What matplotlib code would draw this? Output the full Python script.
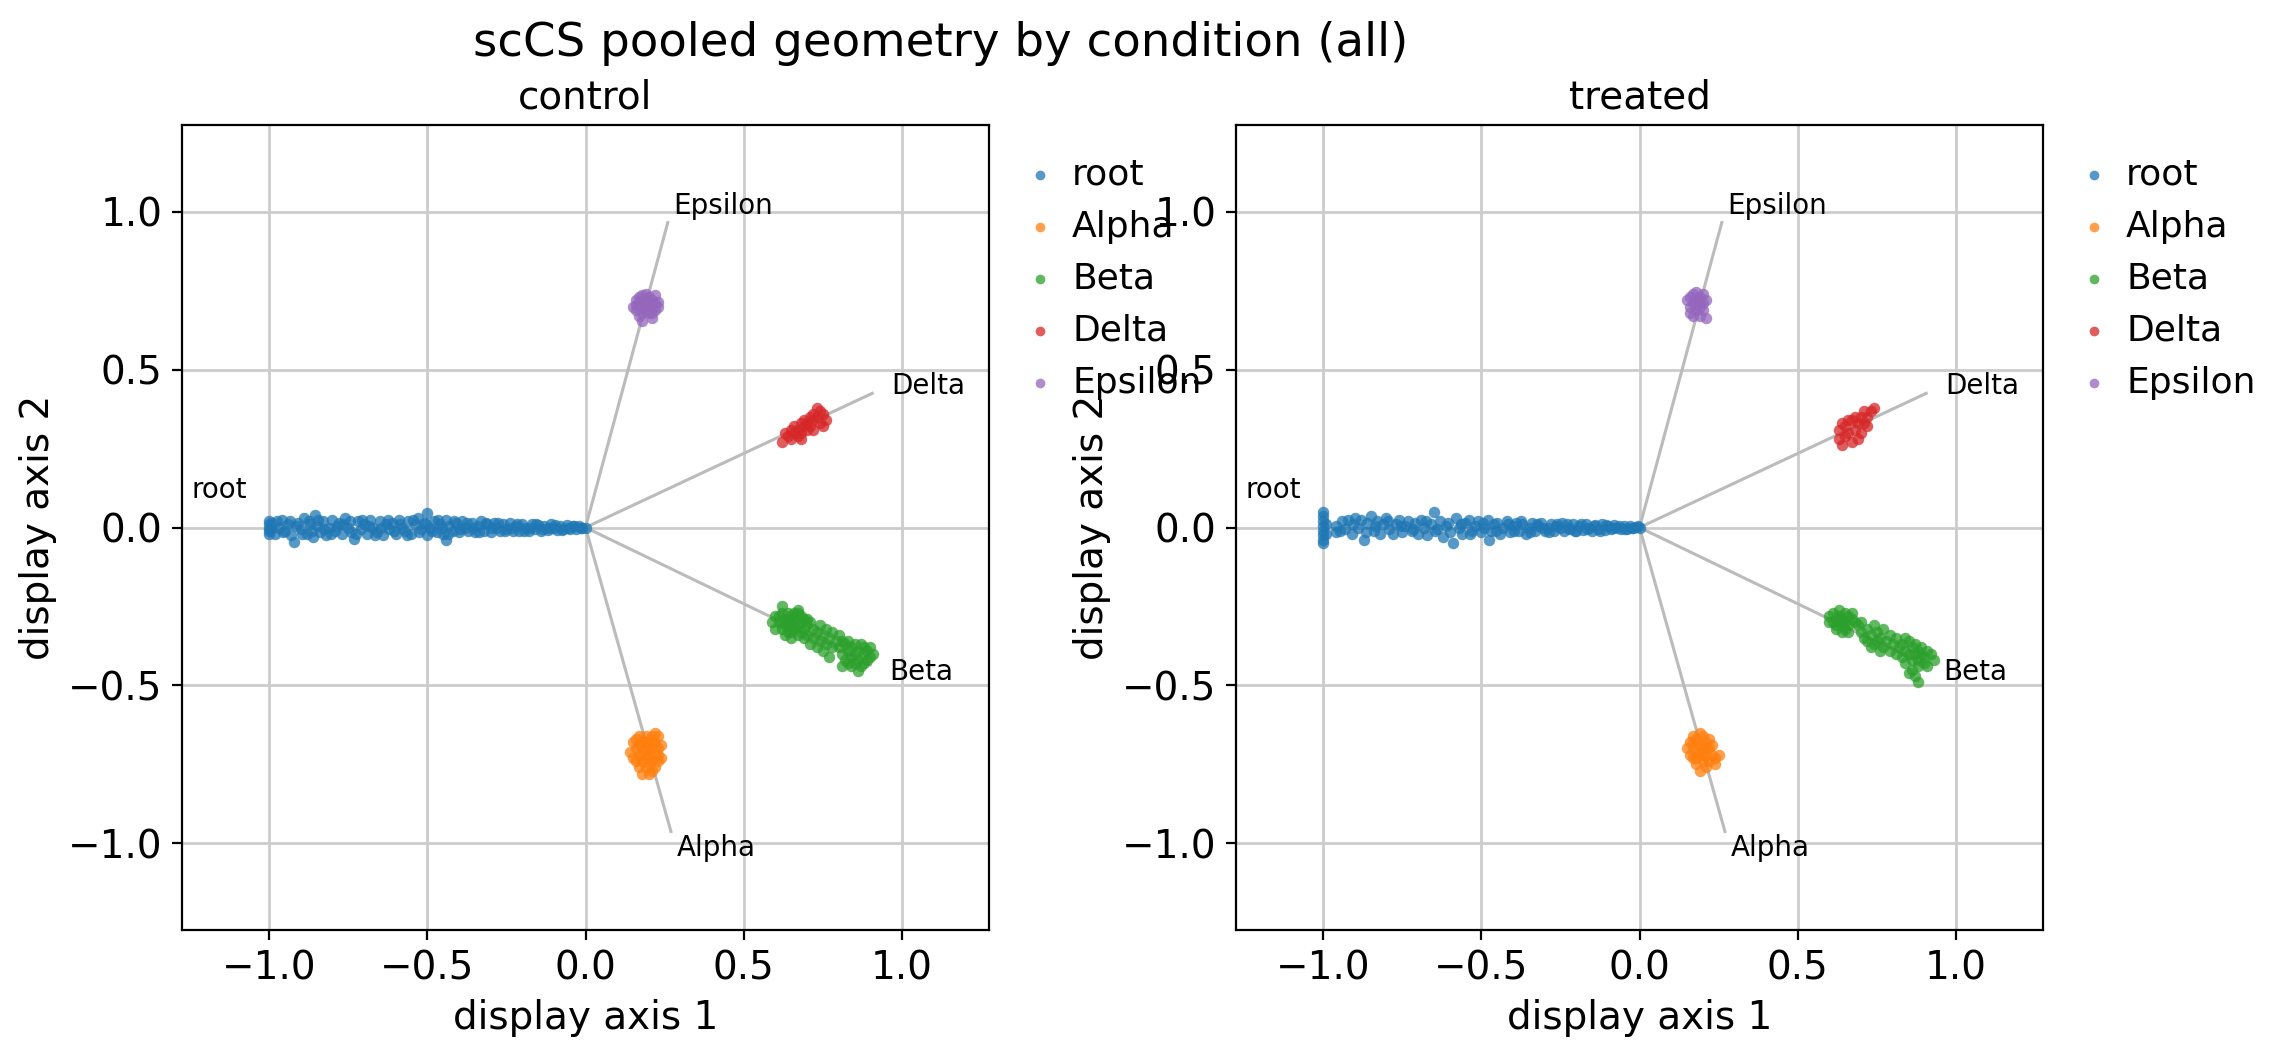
import matplotlib
matplotlib.use("Agg")
import matplotlib.pyplot as plt
import numpy as np

conditions = ["control", "treated"]
branches = ["root", "Alpha", "Beta", "Delta", "Epsilon"]
colors = {"root": "#1f77b4", "Alpha": "#ff7f0e", "Beta": "#2ca02c",
          "Delta": "#d62728", "Epsilon": "#9467bd"}

# trajectory end points (unit directions) for each branch
branch_end_x = [-1.0, 0.27, 0.90, 0.906, 0.26]
branch_end_y = [0.0, -0.963, -0.435, 0.425, 0.966]

# ---------------- control ----------------
ctrl_root_x = [-1.00,-1.00,-1.00,-1.00,-1.00,-0.99,-0.98,-0.97,-0.96,-0.95,-0.94,-0.93,-0.92,-0.91,-0.90,-0.89,-0.88,-0.87,-0.86,-0.855,
               -0.85,-0.84,-0.83,-0.82,-0.81,-0.80,-0.79,-0.78,-0.77,-0.76,-0.75,-0.74,-0.73,-0.72,-0.71,-0.70,-0.69,-0.68,-0.67,-0.66,
               -0.65,-0.64,-0.63,-0.62,-0.61,-0.60,-0.59,-0.58,-0.57,-0.56,-0.55,-0.54,-0.53,-0.52,-0.51,-0.50,-0.50,-0.49,-0.48,-0.47,
               -0.46,-0.45,-0.44,-0.44,-0.43,-0.42,-0.41,-0.40,-0.39,-0.38,-0.37,-0.36,-0.35,-0.34,-0.33,-0.32,-0.31,-0.30,-0.29,-0.28,
               -0.27,-0.26,-0.25,-0.24,-0.23,-0.22,-0.21,-0.20,-0.19,-0.18,-0.17,-0.16,-0.15,-0.14,-0.13,-0.12,-0.11,-0.10,-0.09,-0.08,
               -0.07,-0.06,-0.05,-0.04,-0.03,-0.02,-0.01,0.00,
               -0.995,-0.975,-0.955,-0.935,-0.915,-0.895,-0.875,-0.865,-0.845,-0.825,-0.805,-0.785,-0.765,-0.745,-0.725,-0.705,-0.685,-0.665,-0.645,-0.625,
               -0.605,-0.585,-0.565,-0.545,-0.525,-0.505,-0.485,-0.465,-0.455,-0.435,-0.415,-0.395,-0.375,-0.355,-0.335,-0.315,-0.295,-0.275,-0.255,-0.235,
               -0.215,-0.195,-0.175,-0.155,-0.135,-0.115,-0.095,-0.075,-0.055,-0.035,-0.015]
ctrl_root_y = [0.02,0.00,-0.02,0.01,-0.01,0.015,-0.02,0.00,0.025,-0.01,0.01,-0.025,-0.045,0.015,-0.005,0.03,-0.02,0.01,-0.03,0.04,
               0.005,-0.015,0.02,-0.025,0.00,0.025,-0.01,0.015,-0.02,0.03,0.00,-0.015,-0.035,0.02,-0.005,0.01,-0.02,0.025,0.00,-0.015,
               0.02,-0.025,0.01,-0.005,0.015,-0.02,0.025,0.00,-0.01,0.02,-0.02,0.01,0.03,-0.005,0.015,0.047,-0.025,0.00,0.02,-0.015,
               0.01,-0.02,-0.04,0.025,0.005,-0.01,0.015,-0.015,0.02,0.00,-0.01,0.015,-0.015,0.005,0.02,-0.01,0.01,-0.015,0.015,0.00,
               -0.01,0.01,-0.005,0.015,-0.01,0.005,-0.012,0.01,0.00,-0.01,0.012,-0.005,0.008,-0.01,0.005,-0.008,0.01,0.00,-0.008,0.006,
               -0.004,0.008,-0.006,0.004,-0.004,0.005,-0.003,0.00,
               -0.005,0.02,-0.015,0.02,0.005,-0.02,0.02,-0.01,0.025,-0.005,-0.02,0.005,0.01,0.02,-0.02,0.025,0.005,-0.025,0.00,0.025,
               -0.01,0.01,-0.025,0.025,-0.015,0.01,-0.01,0.025,0.00,-0.02,0.02,-0.005,0.015,0.00,-0.015,0.015,0.00,0.015,-0.012,0.00,
               0.012,-0.01,0.00,0.012,-0.005,0.00,0.008,-0.008,0.00,0.006,0.00]
ctrl_alpha_x = [0.15,0.16,0.17,0.17,0.18,0.18,0.19,0.19,0.19,0.20,0.20,0.21,0.21,0.21,0.22,0.22,0.23,0.23,0.16,0.17,
                0.18,0.20,0.22,0.23,0.24,0.14,0.18,0.20,0.16,0.22,0.19,0.21,0.18,0.20,0.17,0.23,0.19,0.21,0.15,0.24]
ctrl_alpha_y = [-0.68,-0.70,-0.66,-0.72,-0.68,-0.74,-0.66,-0.70,-0.76,-0.68,-0.72,-0.66,-0.70,-0.74,-0.68,-0.72,-0.70,-0.66,-0.74,-0.76,
                -0.70,-0.75,-0.76,-0.74,-0.69,-0.71,-0.78,-0.78,-0.67,-0.65,-0.73,-0.68,-0.72,-0.70,-0.69,-0.72,-0.68,-0.77,-0.73,-0.73]
ctrl_beta_x = [0.60,0.61,0.62,0.62,0.63,0.63,0.64,0.64,0.65,0.65,0.66,0.66,0.67,0.67,0.68,0.68,0.69,0.69,0.70,0.70,
               0.61,0.63,0.65,0.62,0.64,0.66,0.68,0.70,0.71,0.67,0.64,0.66,0.65,0.69,0.59,0.62,0.60,0.67,
               0.72,0.72,0.73,0.74,0.74,0.75,0.76,0.76,0.77,0.78,0.78,0.79,0.80,0.73,0.75,0.71,0.77,
               0.80,0.81,0.81,0.82,0.82,0.83,0.83,0.84,0.84,0.85,0.85,0.85,0.86,0.86,0.87,0.87,0.88,0.88,0.89,0.89,
               0.90,0.90,0.86,0.81,0.84,0.88,0.83,0.91]
ctrl_beta_y = [-0.28,-0.30,-0.27,-0.32,-0.29,-0.31,-0.27,-0.33,-0.30,-0.28,-0.32,-0.29,-0.31,-0.27,-0.30,-0.33,-0.29,-0.32,-0.31,-0.34,
               -0.28,-0.34,-0.33,-0.30,-0.31,-0.27,-0.28,-0.29,-0.30,-0.34,-0.29,-0.31,-0.35,-0.35,-0.30,-0.25,-0.32,-0.26,
               -0.32,-0.35,-0.33,-0.31,-0.36,-0.34,-0.32,-0.37,-0.35,-0.33,-0.38,-0.36,-0.34,-0.38,-0.39,-0.37,-0.41,
               -0.38,-0.36,-0.40,-0.37,-0.42,-0.39,-0.36,-0.41,-0.38,-0.37,-0.40,-0.43,-0.39,-0.42,-0.37,-0.44,-0.40,-0.38,-0.42,-0.39,
               -0.41,-0.38,-0.455,-0.44,-0.44,-0.43,-0.43,-0.40]
ctrl_delta_x = [0.62,0.63,0.64,0.65,0.65,0.66,0.66,0.67,0.67,0.68,0.68,0.69,0.69,0.70,0.70,0.71,0.71,0.72,0.72,0.73,
                0.73,0.74,0.74,0.75,0.76,0.75,0.68,0.72]
ctrl_delta_y = [0.27,0.30,0.29,0.31,0.28,0.30,0.32,0.29,0.31,0.33,0.30,0.32,0.34,0.31,0.33,0.35,0.32,0.34,0.36,0.38,
                0.35,0.37,0.33,0.32,0.34,0.36,0.28,0.31]
ctrl_eps_x = [0.15,0.16,0.16,0.17,0.17,0.18,0.18,0.19,0.19,0.20,0.20,0.20,0.21,0.21,0.22,0.22,0.23,0.17,0.18,0.21,
              0.19,0.22,0.18,0.19,0.21,0.16,0.23]
ctrl_eps_y = [0.70,0.72,0.69,0.71,0.73,0.70,0.68,0.72,0.69,0.71,0.73,0.68,0.70,0.72,0.69,0.71,0.70,0.67,0.655,0.665,
              0.74,0.735,0.735,0.705,0.68,0.705,0.715]

# ---------------- treated ----------------
trt_root_x = [-1.00,-1.00,-1.00,-1.00,-1.00,-1.00,-1.00,-1.00,-0.99,-0.99,-0.96,-0.96,-0.94,-0.93,-0.92,-0.91,-0.90,-0.89,-0.88,-0.87,
              -0.86,-0.85,-0.84,-0.83,-0.82,-0.81,-0.80,-0.79,-0.78,-0.77,-0.76,-0.75,-0.74,-0.73,-0.72,-0.71,-0.70,-0.69,-0.68,-0.67,
              -0.66,-0.65,-0.64,-0.63,-0.62,-0.61,-0.60,-0.59,-0.58,-0.57,-0.56,-0.55,-0.54,-0.53,-0.52,-0.51,-0.50,-0.49,-0.48,-0.475,
              -0.47,-0.46,-0.45,-0.44,-0.43,-0.42,-0.41,-0.40,-0.39,-0.38,-0.37,-0.36,-0.35,-0.34,-0.33,-0.32,-0.31,-0.30,-0.29,-0.28,
              -0.27,-0.26,-0.25,-0.24,-0.23,-0.22,-0.21,-0.20,-0.19,-0.18,-0.17,-0.16,-0.15,-0.14,-0.13,-0.12,-0.11,-0.10,-0.09,-0.08,
              -0.07,-0.06,-0.05,-0.04,-0.03,-0.02,-0.01,0.00,
              -0.945,-0.905,-0.865,-0.835,-0.795,-0.755,-0.715,-0.675,-0.645,-0.605,-0.565,-0.535,-0.495,-0.455,-0.415,-0.395,-0.375,-0.345,-0.325,-0.305,
              -0.285,-0.265,-0.245,-0.225,-0.205,-0.185,-0.165,-0.145,-0.125,-0.105,-0.085,-0.065,-0.045,-0.025,-0.005]
trt_root_y = [0.05,0.035,0.02,0.005,-0.01,-0.025,-0.04,-0.05,0.01,-0.02,0.005,-0.015,0.02,-0.005,0.025,-0.02,0.03,0.00,0.025,-0.04,
              0.015,0.035,-0.01,0.02,-0.02,0.01,0.03,-0.005,-0.02,0.01,0.025,-0.015,0.005,0.02,-0.01,0.015,-0.02,0.025,0.00,-0.025,
              0.01,0.05,-0.005,0.02,-0.03,0.005,-0.015,-0.05,0.03,0.00,-0.02,0.015,0.025,-0.01,0.005,0.02,-0.015,0.00,0.025,-0.04,
              -0.01,0.01,0.015,-0.02,0.00,0.02,-0.015,0.005,0.015,-0.01,0.01,-0.02,0.00,0.015,-0.01,0.005,0.015,-0.01,0.00,0.01,
              -0.012,0.012,0.00,-0.01,0.01,-0.005,0.012,-0.01,0.005,-0.008,0.01,0.00,-0.01,0.008,-0.004,0.01,-0.008,0.004,-0.006,0.008,
              0.00,-0.006,0.006,-0.004,0.004,-0.003,0.003,0.00,
              -0.01,0.01,-0.015,0.005,0.02,0.005,-0.005,0.02,-0.01,0.015,0.01,-0.02,0.015,-0.01,0.01,-0.01,0.02,-0.015,0.01,0.00,
              -0.015,0.005,0.015,0.00,-0.01,0.01,-0.005,0.005,-0.01,0.008,0.00,0.006,-0.004,0.00,0.004]
trt_alpha_x = [0.16,0.17,0.17,0.18,0.18,0.18,0.19,0.19,0.20,0.20,0.20,0.21,0.21,0.22,0.22,0.23,0.24,0.16,0.19,0.21,
               0.17,0.23,0.25,0.15,0.19,0.22,0.18,0.20,0.21,0.17,0.24]
trt_alpha_y = [-0.68,-0.70,-0.73,-0.67,-0.71,-0.75,-0.69,-0.72,-0.66,-0.70,-0.74,-0.68,-0.72,-0.70,-0.74,-0.72,-0.73,-0.72,-0.77,-0.76,
               -0.66,-0.69,-0.72,-0.70,-0.65,-0.67,-0.73,-0.72,-0.70,-0.68,-0.75]
trt_beta_x = [0.60,0.61,0.61,0.62,0.62,0.63,0.63,0.63,0.64,0.64,0.65,0.65,0.66,0.66,0.67,0.62,0.64,0.66,0.60,0.67,0.68,0.65,
              0.69,0.70,0.70,0.71,0.72,0.72,0.73,0.74,0.74,0.75,0.75,0.76,0.77,0.77,0.78,0.79,0.79,0.80,0.81,0.81,0.82,0.73,0.76,
              0.83,0.83,0.84,0.84,0.85,0.85,0.86,0.86,0.86,0.87,0.87,0.88,0.88,0.88,0.89,0.89,0.90,0.90,0.91,0.92,0.93,0.85,0.87,0.88,0.84,0.91]
trt_beta_y = [-0.28,-0.30,-0.27,-0.29,-0.32,-0.28,-0.30,-0.26,-0.29,-0.31,-0.27,-0.30,-0.28,-0.31,-0.29,-0.31,-0.33,-0.33,-0.30,-0.27,-0.30,-0.32,
              -0.31,-0.33,-0.30,-0.35,-0.32,-0.36,-0.34,-0.31,-0.37,-0.33,-0.36,-0.35,-0.32,-0.38,-0.36,-0.34,-0.39,-0.37,-0.35,-0.40,-0.38,-0.38,-0.39,
              -0.37,-0.41,-0.39,-0.43,-0.36,-0.40,-0.38,-0.42,-0.45,-0.40,-0.37,-0.39,-0.42,-0.44,-0.40,-0.38,-0.41,-0.43,-0.39,-0.40,-0.42,-0.46,-0.47,-0.49,-0.35,-0.44]
trt_delta_x = [0.63,0.63,0.64,0.65,0.65,0.66,0.67,0.67,0.68,0.68,0.69,0.70,0.70,0.71,0.72,0.72,0.73,0.74,0.66,0.69,0.64,0.71]
trt_delta_y = [0.28,0.31,0.26,0.29,0.32,0.30,0.27,0.34,0.31,0.35,0.33,0.35,0.30,0.37,0.32,0.35,0.37,0.38,0.34,0.28,0.33,0.33]
trt_eps_x = [0.15,0.16,0.16,0.17,0.17,0.18,0.18,0.19,0.19,0.20,0.20,0.21,0.17,0.19,0.21,0.18,0.20,0.16,0.18,0.19]
trt_eps_y = [0.72,0.70,0.73,0.71,0.74,0.69,0.72,0.70,0.73,0.71,0.69,0.72,0.67,0.67,0.665,0.745,0.74,0.68,0.705,0.715]

data = {
    "control": {"root": (ctrl_root_x, ctrl_root_y), "Alpha": (ctrl_alpha_x, ctrl_alpha_y),
                "Beta": (ctrl_beta_x, ctrl_beta_y), "Delta": (ctrl_delta_x, ctrl_delta_y),
                "Epsilon": (ctrl_eps_x, ctrl_eps_y)},
    "treated": {"root": (trt_root_x, trt_root_y), "Alpha": (trt_alpha_x, trt_alpha_y),
                "Beta": (trt_beta_x, trt_beta_y), "Delta": (trt_delta_x, trt_delta_y),
                "Epsilon": (trt_eps_x, trt_eps_y)},
}

W, H = 2287, 1058
dpi = 200
fig = plt.figure(figsize=(W / dpi, H / dpi), dpi=dpi)
plt.rcParams["font.size"] = 14

ax_w = 807 / W
ax_h = 805 / H
bottom = 1 - 930 / H
lefts = [182 / W, 1236 / W]
lim = 1.275

for i, cond in enumerate(conditions):
    ax = fig.add_axes([lefts[i], bottom, ax_w, ax_h])
    ax.set_axisbelow(True)
    ax.grid(True, color="#cccccc", linewidth=1.0)
    for b, ex, ey in zip(branches, branch_end_x, branch_end_y):
        ax.plot([0, ex], [0, ey], color="#bbbbbb", linewidth=1.1, zorder=1)
        if b == "root":
            ax.text(ex * 1.07, ey + 0.12, b, ha="right", va="center", fontsize=10, zorder=4)
        else:
            ax.text(ex * 1.065, ey * 1.055, b, ha="left", va="center", fontsize=10, zorder=4)
    for b in branches:
        xs, ys = data[cond][b]
        ax.scatter(xs, ys, s=17, color=colors[b], alpha=0.75, linewidths=0, label=b, zorder=2)
    ax.set_xlim(-lim, lim)
    ax.set_ylim(-lim, lim)
    ticks = [-1.0, -0.5, 0.0, 0.5, 1.0]
    ax.set_xticks(ticks)
    ax.set_yticks(ticks)
    ax.tick_params(labelsize=14)
    ax.set_xlabel("display axis 1", fontsize=14)
    ax.set_ylabel("display axis 2", fontsize=14)
    ax.set_title(cond, fontsize=14)
    ax.legend(loc="upper left", bbox_to_anchor=(1.0, 1.0), frameon=False, fontsize=13,
              handlelength=1.0, handletextpad=0.4, markerscale=0.85)

fig.suptitle("scCS pooled geometry by condition (all)", fontsize=16.8, x=0.4115, y=0.98)
fig.savefig("out.png", dpi=dpi)
